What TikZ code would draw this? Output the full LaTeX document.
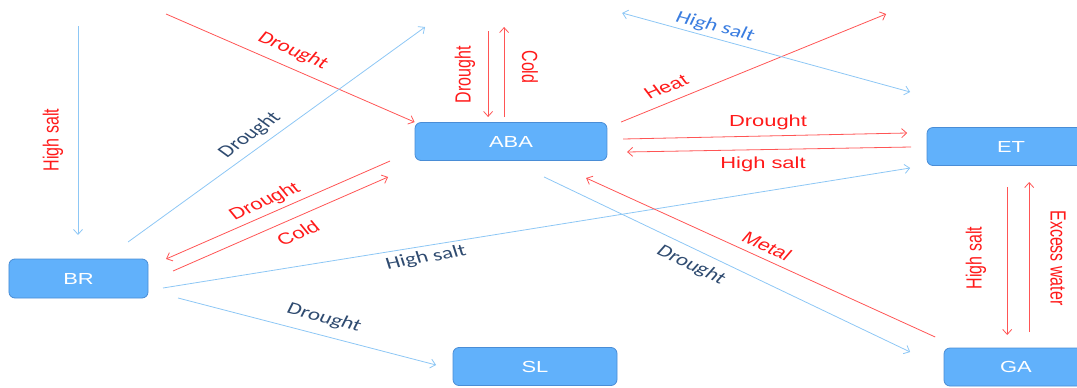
\documentclass[tikz,border=0pt]{standalone}
\usepackage{fontspec}
\setmainfont{Liberation Sans}
\newfontfamily\calibrifont{Carlito}
\usetikzlibrary{arrows.meta}
\definecolor{boxfill}{HTML}{61B1FB}
\definecolor{boxline}{HTML}{4A8DD6}
\definecolor{redline}{HTML}{FF5555}
\definecolor{labred}{HTML}{FF1A1A}
\definecolor{blueline}{HTML}{8DC7F5}
\definecolor{labnavy}{HTML}{2F4B70}
\definecolor{labblue}{HTML}{3A7DE0}
\begin{document}
\begin{tikzpicture}
		[x=0.72993pt,y=-1pt,xscale=1.37,transform shape,
		box/.style={rectangle,rounded corners=6pt,draw=boxline,fill=boxfill,line width=0.8pt,text=white,font=\fontsize{16}{18}\selectfont,minimum height=38pt,inner sep=0pt},
		redarr/.style={->,draw=redline,line width=0.8pt},
		bluearr/.style={->,draw=blueline,line width=0.8pt},
		redlab/.style={text=labred,inner sep=0pt,font=\fontsize{16}{18}\selectfont},
		redlabc/.style={text=labred,inner sep=0pt,font=\calibrifont\fontsize{17}{19}\selectfont},
		navylab/.style={text=labnavy,inner sep=0pt,font=\calibrifont\fontsize{17}{19}\selectfont},
		bluelab/.style={text=labblue,inner sep=0pt,font=\calibrifont\fontsize{17}{19}\selectfont},
		>={Straight Barb[length=5pt,width=9pt]}]
		\useasboundingbox (0,0) rectangle (1077,388);
		\node[box,name=ABA,minimum width=140.1pt]at(511,141.5){ABA};
		\node[box,name=ET,minimum width=122.6pt]at(1011,146.5){ET};
		\node[box,name=BR,minimum width=101.5pt,minimum height=39pt]at(78.5,278.5){BR};
		\node[box,name=SL,minimum width=119.7pt]at(535,366.5){SL};
		\node[box,name=GA,minimum width=105.1pt]at(1016,367){GA};
		\coordinate (a1) at (78,26);
		\coordinate (a2) at (78,235);
		\coordinate (b1) at (166,14);
		\coordinate (c1) at (128,242);
		\coordinate (c2) at (425,27);
		\coordinate (d1) at (390,161);
		\coordinate (d2) at (166,259);
		\coordinate (e1) at (173,271);
		\coordinate (e2) at (388,177);
		\coordinate (f1) at (488,31);
		\coordinate (f2) at (488,117);
		\coordinate (g1) at (504,117);
		\coordinate (g2) at (504,27);
		\coordinate (h1) at (621,122);
		\coordinate (h2) at (886,14);
		\coordinate (i1) at (622,13);
		\coordinate (i2) at (910,92);
		\coordinate (j1) at (623,139);
		\coordinate (j2) at (907,133);
		\coordinate (k1) at (911,147);
		\coordinate (k2) at (627,152);
		\coordinate (l1) at (163,288);
		\coordinate (l2) at (910,168);
		\coordinate (m1) at (178,298);
		\coordinate (m2) at (436,365);
		\coordinate (n1) at (544,177);
		\coordinate (n2) at (910,352);
		\coordinate (o1) at (935,337);
		\coordinate (o2) at (586,178);
		\coordinate (p1) at (1007,187);
		\coordinate (p2) at (1007,335);
		\coordinate (q1) at (1029,332);
		\coordinate (q2) at (1029,182);
		\draw[bluearr] (a1)--(a2);
		\draw[redarr] (b1)--(ABA.north west);
		\draw[bluearr] (c1)--(c2);
		\draw[redarr] (d1)--(d2);
		\draw[redarr] (e1)--(e2);
		\draw[redarr] (f1)--(f2);
		\draw[redarr] (g1)--(g2);
		\draw[redarr] (h1)--(h2);
		\draw[bluearr,<->] (i1)--(i2);
		\draw[redarr] (j1)--(j2);
		\draw[redarr] (k1)--(k2);
		\draw[bluearr] (l1)--(l2);
		\draw[bluearr] (m1)--(m2);
		\draw[bluearr] (n1)--(n2);
		\draw[redarr] (o1)--(o2);
		\draw[redarr] (p1)--(p2);
		\draw[redarr] (q1)--(q2);
		\node[redlab,name=la,rotate=90]at(53,140){High salt};
		\node[redlabc,name=lb,rotate=-31]at(293,51){Drought};
		\node[navylab,name=lc,rotate=45]at(250,135){Drought};
		\node[redlab,name=ld,rotate=31]at(265,202){Drought};
		\node[redlab,name=le,rotate=31]at(298,233){Cold};
		\node[redlab,name=lf,rotate=90]at(465,75){Drought};
		\node[redlab,name=lg,rotate=-90]at(530,67){Cold};
		\node[redlab,name=lh,rotate=29]at(666,87){Heat};
		\node[bluelab,name=li,rotate=-19]at(715,27){High salt};
		\node[redlab,name=lj]at(768,122){Drought};
		\node[redlab,name=lk]at(763,164){High salt};
		\node[navylab,name=ll,rotate=13]at(426,258){High salt};
		\node[navylab,name=lm,rotate=-20]at(324,318){Drought};
		\node[navylab,name=ln,rotate=-33]at(691,265){Drought};
		\node[redlab,name=lo,rotate=-32]at(767,246){Metal};
		\node[redlab,name=lp,rotate=90]at(976,258){High salt};
		\node[redlab,name=lq,rotate=-90]at(1058,258){Excess water};
	\end{tikzpicture}
\end{document}
